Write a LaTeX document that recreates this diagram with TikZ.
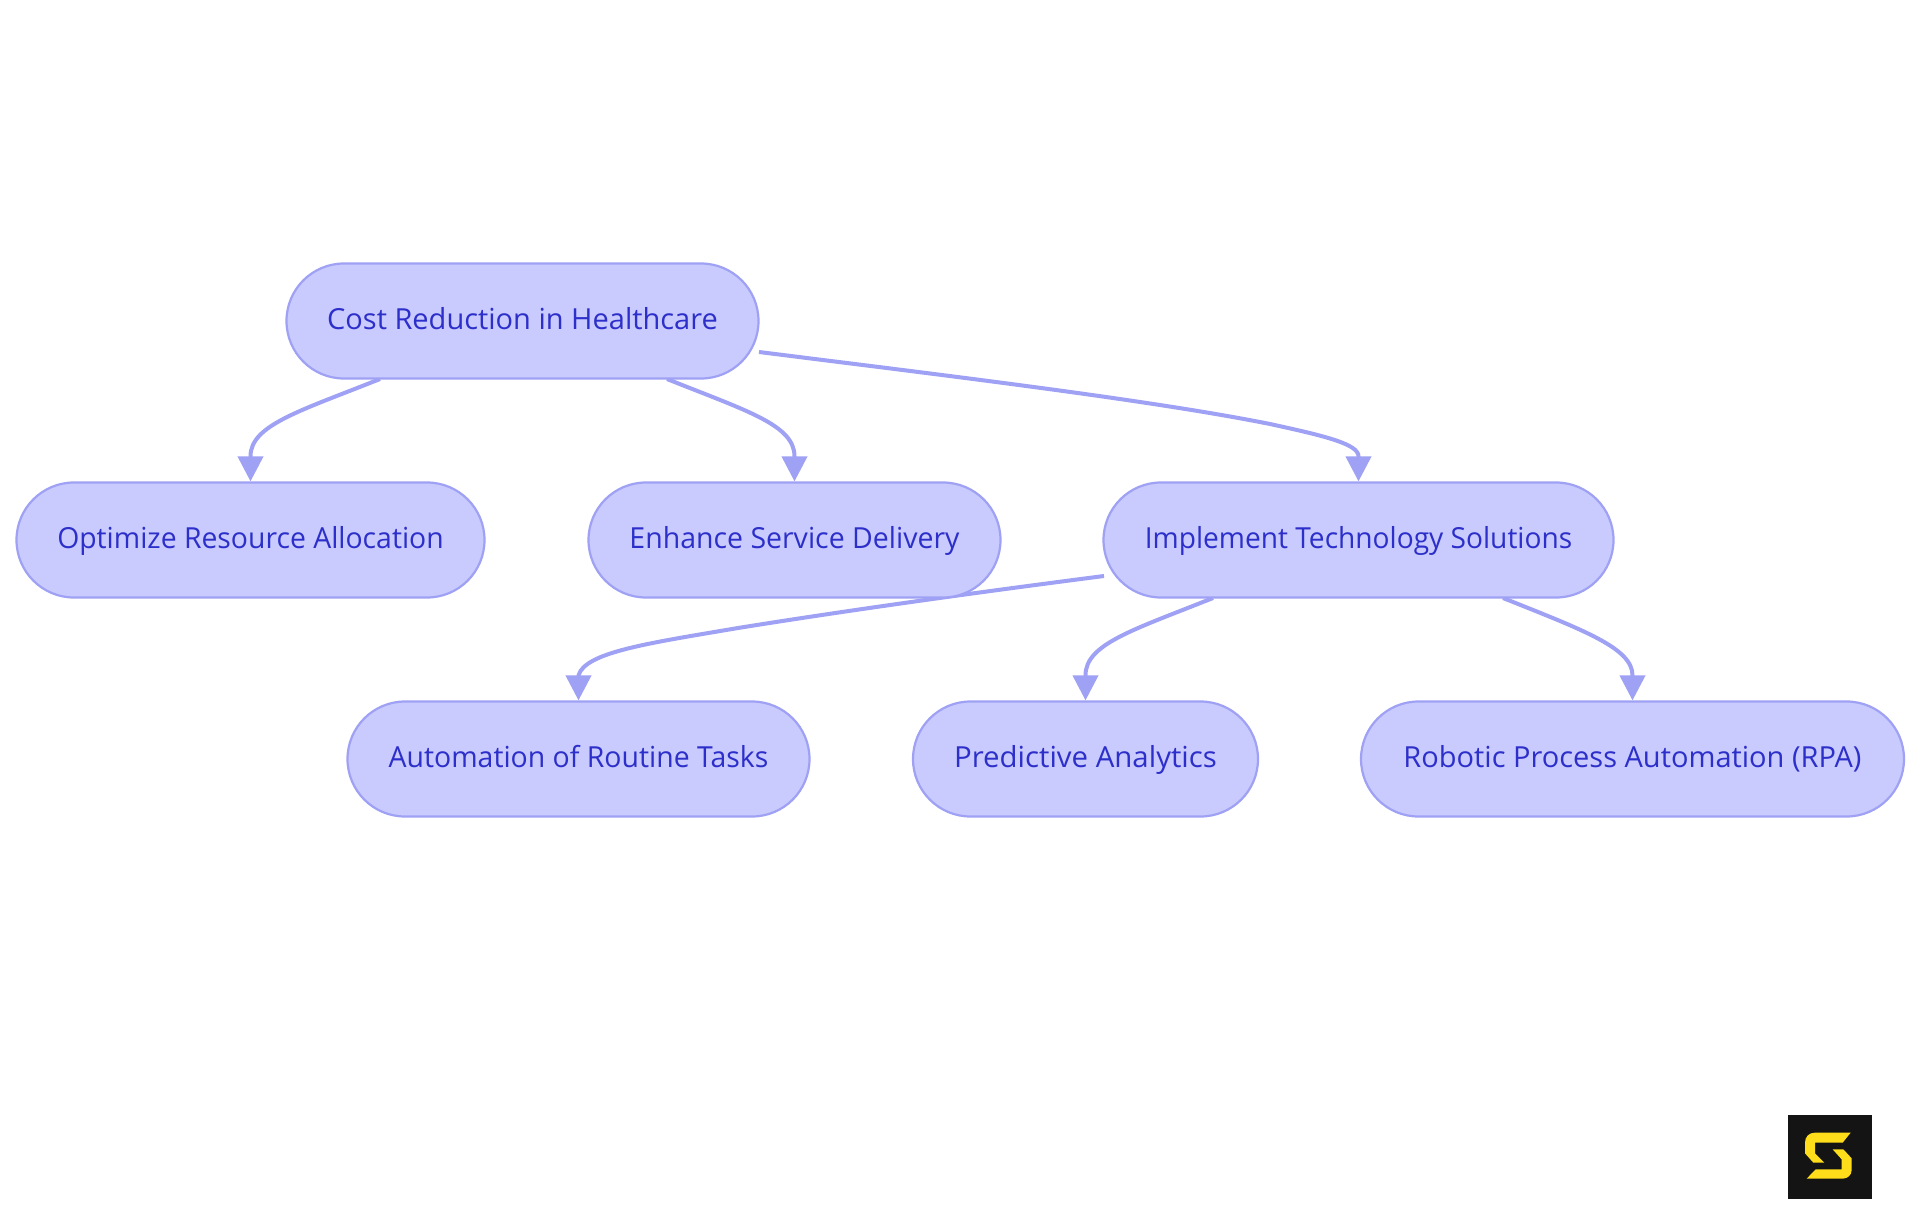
\documentclass[tikz,border=0pt]{standalone}
\usepackage{fontspec}
\setmainfont{Open Sans}
\usetikzlibrary{arrows.meta,backgrounds,calc}
\definecolor{nfill}{HTML}{C9CAFD}
\definecolor{nline}{HTML}{9FA1F4}
\definecolor{ntext}{HTML}{2C2FC9}
\definecolor{logobg}{HTML}{141414}
\definecolor{logofg}{HTML}{FFDD1A}
\newcommand{\widthfit}[2]{\scalebox{#1}[1]{#2}}
\tikzset{
  pill/.style={draw=nline,fill=nfill,line width=2.2pt,rounded corners=57.5pt,minimum height=115pt,inner sep=0pt,
    text=ntext,font=\fontsize{29}{34}\selectfont,text height=22pt,text depth=6pt,align=center},
  edge/.style={draw=nline,line width=4pt,-{Triangle[length=25pt,width=25pt,fill=nline]}},
}
\begin{document}
\begin{tikzpicture}[x=1pt,y=-1pt]
\useasboundingbox (0,0) rectangle (1920,1215);
\node[pill,minimum width=472pt] (root) at (522.5,321) {Cost Reduction in Healthcare};
\node[pill,minimum width=468pt] (opt) at (250.5,540) {\widthfit{0.978}{Optimize Resource Allocation}};
\node[pill,minimum width=412pt] (enh) at (794.5,540) {\widthfit{0.982}{Enhance Service Delivery}};
\node[pill,minimum width=510pt] (imp) at (1358.5,540) {\widthfit{0.97}{Implement Technology Solutions}};
\node[pill,minimum width=462pt] (aut) at (578.5,759) {\widthfit{0.98}{Automation of Routine Tasks}};
\node[pill,minimum width=345pt] (pre) at (1085.5,759) {\widthfit{1.014}{Predictive Analytics}};
\node[pill,minimum width=543pt] (rob) at (1632.5,759) {Robotic Process Automation (RPA)};
\coordinate (s1) at (380,379);
\coordinate (s2) at (667,379);
\coordinate (s3) at (759,352);
\coordinate (s4) at (1104,576);
\coordinate (s5) at (1213,598);
\coordinate (s6) at (1503,598);
\begin{scope}[on background layer]
\fill[white] (0,0) rectangle (1920,1215);
\draw[edge] (s1) .. controls (300,411) and (250.5,425) .. ($(opt.north)+(0,-25)$) -- (opt.north);
\draw[edge] (s2) .. controls (747,411) and (794.5,425) .. ($(enh.north)+(0,-25)$) -- (enh.north);
\draw[edge] (s3) .. controls (950,376) and (1150,400) .. (1270,424) .. controls (1325,436) and (1358.5,444) .. ($(imp.north)+(0,-25)$) -- (imp.north);
\draw[edge] (s4) .. controls (980,592) and (850,610) .. (738,628) .. controls (650,643) and (585,652) .. ($(aut.north)+(0,-25)$) -- (aut.north);
\draw[edge] (s5) .. controls (1133,630) and (1085.5,644) .. ($(pre.north)+(0,-25)$) -- (pre.north);
\draw[edge] (s6) .. controls (1583,630) and (1632.5,648) .. ($(rob.north)+(0,-25)$) -- (rob.north);
\end{scope}
\fill[logobg] (1788,1115) rectangle (1872,1199);
\begin{scope}[shift={(1760,1090)},x=0.3333pt,y=-0.3333pt]
\fill[logofg] (272,128) -- (165,128) .. controls (147,128) and (135,140) .. (135,158) -- (135,190) -- (160,218) -- (193,218) -- (165,190) -- (165,158) -- (248,158) -- cycle;
\fill[logofg] (218,178) -- (250,178) -- (275,205) -- (275,240) .. controls (275,255) and (263,266) .. (248,266) -- (140,266) -- (167,238) -- (245,238) -- (245,208) -- cycle;
\end{scope}
\end{tikzpicture}
\end{document}
